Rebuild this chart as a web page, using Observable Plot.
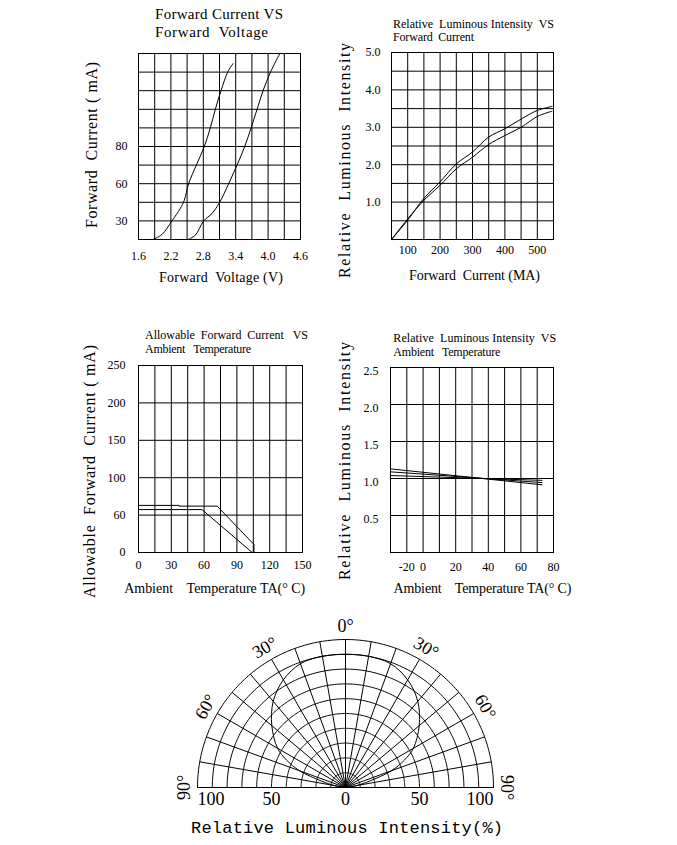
<!DOCTYPE html>
<html><head><meta charset="utf-8">
<script src="https://cdn.jsdelivr.net/npm/d3@7"></script>
<script src="https://cdn.jsdelivr.net/npm/@observablehq/plot@0.6"></script>
<style>
html,body{margin:0;padding:0;background:#fff;}
#root{position:relative;width:677px;height:845px;overflow:hidden;background:#fff;}
#root > svg{position:absolute;}
</style></head><body><div id="root"></div>
<script>
// ===== DATA =====
// Panel 1: Forward Current vs Forward Voltage (current read in grid rows)
const fvVoltageA = [1.867,2.034,2.219,2.374,2.448,2.528,2.671,2.819,2.93,3.023,3.128,3.252,3.351];
const fvRowsA    = [0,0.27,1,1.67,2.11,3,4,5,6,7,8,9,9.46];
const fvVoltageB = [2.516,2.652,2.807,2.961,3.103,3.27,3.425,3.567,3.685,3.796,3.907,4.044,4.217];
const fvRowsB    = [0,0.23,1,1.4,2,3,4,5,6,7,8,9,10];
const fvXTicks = [1.6,2.2,2.8,3.4,4.0,4.6];
const fvYTickRows = [1,3,5];
const fvYTickLabels = ["30","60","80"];

// Panel 2: Relative luminous intensity vs forward current
const liCurrent = [50,100,150,200,250,300,350,400,450,500,545];
const liA = [0,0.52,1.1,1.54,2.02,2.34,2.74,2.96,3.22,3.45,3.56];
const liB = [0,0.55,1.05,1.45,1.89,2.2,2.54,2.78,3.0,3.29,3.43];
const liXTicks = [100,200,300,400,500];
const liYTicks = [1,2,3,4,5];

// Panel 3: Allowable forward current vs ambient temperature (y in axis position units)
const afTempA = [0,37,37,72,105.6,105.6];
const afPosA  = [63,63,62,62,10.7,0];
const afTempB = [0,58,104];
const afPosB  = [57.4,57.4,0];
const afXTicks = [0,30,60,90,120,150];
const afYTickPos = [0,50,100,150,200,250];
const afYTickLabels = ["0","60","100","150","200","250"];

// Panel 4: Relative luminous intensity vs ambient temperature (x in grid columns)
const riCol = [0,9.3];
const riA = [1.13,0.915];
const riB = [1.09,0.945];
const riC = [1.04,0.975];
const riXTickCols = [1,2,4,6,8,10];
const riXTickLabels = ["-20","0","20","40","60","80"];
const riYTicks = [0.5,1.0,1.5,2.0,2.5];

// Polar radiation pattern
const patternAngle = [-90,-85,-80,-75,-70,-65,-60,-50,-40,-30,-20,-10,0,10,20,30,40,50,60,65,70,75,80,85,90];
const patternValue = [0,3,8,17,33,44,53,65,76,84,89,90,90,90,89,84,76,65,53,44,33,17,8,3,0];
const polarRings = [10,20,30,40,50,60,70,80,90,100];
const polarSpokes = [-90,-80,-70,-60,-50,-40,-30,-20,-10,0,10,20,30,40,50,60,70,80,90];
const polarAngleLabels = [-90,-60,-30,0,30,60,90];
const polarAngleTexts = ["90°","60°","30°","0°","30°","60°","90°"];
const polarTickPos = [-100,-50,0,50,100];
const polarTickTexts = ["100","50","0","50","100"];

// ===== RENDER =====
const root = document.getElementById("root");
function place(svg, left, top){ svg.style.left = left+"px"; svg.style.top = top+"px"; root.appendChild(svg); }
const baseStyle = {fontFamily:"'Liberation Serif', serif", fontSize:"12px", color:"#000", background:"transparent", overflow:"visible"};
const K = "#000";
const LW = 1;
const zip = (xs, ys) => xs.map((x,i)=>({x, y:ys[i]}));

// Panel 1
const fvMap = new Map(fvYTickRows.map((r,i)=>[r, fvYTickLabels[i]]));
place(Plot.plot({
  width:240, height:250, marginLeft:58, marginRight:20, marginTop:13, marginBottom:51,
  style: baseStyle,
  x:{domain:[1.6,4.6]}, y:{domain:[0,10]},
  marks:[
    Plot.ruleX(d3.range(11).map(i=>1.6+0.3*i), {stroke:K}),
    Plot.ruleY(d3.range(11), {stroke:K}),
    Plot.frame({stroke:K}),
    Plot.line(zip(fvVoltageA, fvRowsA), {x:"x", y:"y", stroke:K, strokeWidth:LW, curve:"catmull-rom"}),
    Plot.line(zip(fvVoltageB, fvRowsB), {x:"x", y:"y", stroke:K, strokeWidth:LW, curve:"catmull-rom"}),
    Plot.axisX(fvXTicks, {tickSize:0, tickPadding:12, tickFormat:d=>d.toFixed(1), label:null, fontSize:12}),
    Plot.axisY(fvYTickRows, {tickSize:0, tickPadding:11, tickFormat:d=>fvMap.get(d), label:null, fontSize:12})
  ]
}), 80, 40);

// Panel 2
place(Plot.plot({
  width:250, height:250, marginLeft:61, marginRight:27, marginTop:12, marginBottom:51,
  style: baseStyle,
  x:{domain:[50,550]}, y:{domain:[0,5]},
  marks:[
    Plot.ruleX(d3.range(50,551,50), {stroke:K}),
    Plot.ruleY(d3.range(0,5.01,0.5), {stroke:K}),
    Plot.frame({stroke:K}),
    Plot.line(zip(liCurrent, liA), {x:"x", y:"y", stroke:K, strokeWidth:LW, curve:"catmull-rom"}),
    Plot.line(zip(liCurrent, liB), {x:"x", y:"y", stroke:K, strokeWidth:LW, curve:"catmull-rom"}),
    Plot.axisX(liXTicks, {tickSize:0, tickPadding:6, label:null, fontSize:12}),
    Plot.axisY(liYTicks, {tickSize:0, tickPadding:11, tickFormat:d=>d.toFixed(1), label:null, fontSize:12})
  ]
}), 330, 40);

// Panel 3
const afMap = new Map(afYTickPos.map((p,i)=>[p, afYTickLabels[i]]));
place(Plot.plot({
  width:250, height:280, marginLeft:63, marginRight:23, marginTop:45, marginBottom:48,
  style: baseStyle,
  x:{domain:[0,150]}, y:{domain:[0,250]},
  marks:[
    Plot.ruleX(d3.range(0,151,15), {stroke:K}),
    Plot.ruleY(d3.range(0,251,50), {stroke:K}),
    Plot.frame({stroke:K}),
    Plot.line(zip(afTempA, afPosA), {x:"x", y:"y", stroke:K, strokeWidth:LW}),
    Plot.line(zip(afTempB, afPosB), {x:"x", y:"y", stroke:K, strokeWidth:LW}),
    Plot.axisX(afXTicks, {tickSize:0, tickPadding:8, label:null, fontSize:12}),
    Plot.axisY(afYTickPos, {tickSize:0, tickPadding:13, tickFormat:d=>afMap.get(d), label:null, fontSize:12})
  ]
}), 75, 320);

// Panel 4
const riMap = new Map(riXTickCols.map((c,i)=>[c, riXTickLabels[i]]));
place(Plot.plot({
  width:250, height:280, marginLeft:60, marginRight:27, marginTop:47, marginBottom:48,
  style: baseStyle,
  x:{domain:[0,10]}, y:{domain:[0,2.5]},
  marks:[
    Plot.ruleX(d3.range(11), {stroke:K}),
    Plot.ruleY(d3.range(0,2.51,0.5), {stroke:K}),
    Plot.frame({stroke:K}),
    Plot.line(zip(riCol, riA), {x:"x", y:"y", stroke:K, strokeWidth:LW}),
    Plot.line(zip(riCol, riB), {x:"x", y:"y", stroke:K, strokeWidth:LW}),
    Plot.line(zip(riCol, riC), {x:"x", y:"y", stroke:K, strokeWidth:LW}),
    Plot.axisX(riXTickCols, {tickSize:0, tickPadding:10, tickFormat:d=>riMap.get(d), label:null, fontSize:12}),
    Plot.axisY(riYTicks, {tickSize:0, tickPadding:12, dy:4, tickFormat:d=>d.toFixed(1), label:null, fontSize:12})
  ]
}), 330, 320);

// Polar
const rad = a => a*Math.PI/180;
const ringPts = polarRings.flatMap(r => d3.range(-90, 90.01, 1).map(a => ({r, a})));
const spokeData = polarSpokes.map(a => ({a}));
const pattern = patternAngle.map((a,i)=>({a, r:patternValue[i]}));
const angleLab = polarAngleLabels.map((a,i)=>({a, t:polarAngleTexts[i]}));
const tickLab = polarTickPos.map((p,i)=>({p, t:polarTickTexts[i]}));
place(Plot.plot({
  width:370, height:235, marginLeft:37, marginRight:37, marginTop:29, marginBottom:58,
  style: {...baseStyle, fontSize:"18px"},
  x:{domain:[-100,100], axis:null}, y:{domain:[0,100], axis:null},
  marks:[
    Plot.line(ringPts, {x:d=>d.r*Math.sin(rad(d.a)), y:d=>d.r*Math.cos(rad(d.a)), z:"r", stroke:K, strokeWidth:LW}),
    Plot.link(spokeData, {x1:0, y1:0, x2:d=>100*Math.sin(rad(d.a)), y2:d=>100*Math.cos(rad(d.a)), stroke:K, strokeWidth:LW}),
    Plot.line(pattern, {x:d=>d.r*Math.sin(rad(d.a)), y:d=>d.r*Math.cos(rad(d.a)), stroke:K, strokeWidth:LW, curve:"catmull-rom"}),
    Plot.text(angleLab, {x:d=>109*Math.sin(rad(d.a)), y:d=>109*Math.cos(rad(d.a)), text:"t", rotate:d=>d.a, fontSize:18, fill:K}),
    Plot.text(tickLab.filter(d=>d.p===-100), {x:"p", y:0, text:"t", dy:12, textAnchor:"start", fontSize:18, fill:K}),
    Plot.text(tickLab.filter(d=>d.p===100), {x:"p", y:0, text:"t", dy:12, textAnchor:"end", fontSize:18, fill:K}),
    Plot.text(tickLab.filter(d=>Math.abs(d.p)<100), {x:"p", y:0, text:"t", dy:12, fontSize:18, fill:K})
  ]
}), 160, 610);

// ===== Overlay text (titles, axis labels) =====
const serif = "'Liberation Serif', serif";
const mono = "'Liberation Mono', monospace";
const labels = [
  {t:"Forward Current VS", x:155, y:13.5, a:"start", fs:15, len:128},
  {t:"Forward  Voltage", x:155, y:31.5, a:"start", fs:15, len:113},
  {t:"Forward  Current ( mA)", x:91, y:145, a:"middle", fs:16, len:166, rot:-90},
  {t:"Forward  Voltage (V)", x:221, y:277, a:"middle", fs:14, len:124},

  {t:"Relative  Luminous Intensity  VS", x:393, y:24, a:"start", fs:12, len:161},
  {t:"Forward  Current", x:393, y:36.7, a:"start", fs:12, len:81},
  {t:"Relative  Luminous  Intensity", x:344, y:160.5, a:"middle", fs:16, len:235, rot:-90},
  {t:"Forward  Current (MA)", x:474.5, y:275, a:"middle", fs:14, len:131},

  {t:"Allowable  Forward  Current   VS", x:145, y:335, a:"start", fs:12, len:163},
  {t:"Ambient   Temperature", x:145, y:349.3, a:"start", fs:12, len:106},
  {t:"Allowable  Forward  Current ( mA)", x:89, y:471.5, a:"middle", fs:16, len:253, rot:-90},
  {t:"Ambient    Temperature TA(° C)", x:214.7, y:588, a:"middle", fs:14, len:181},

  {t:"Relative  Luminous Intensity  VS", x:393.3, y:338.3, a:"start", fs:12, len:163},
  {t:"Ambient   Temperature", x:393.3, y:351.7, a:"start", fs:12, len:107},
  {t:"Relative  Luminous  Intensity", x:344, y:461, a:"middle", fs:16, len:238, rot:-90},
  {t:"Ambient    Temperature TA(° C)", x:482.5, y:588, a:"middle", fs:14, len:178},

  {t:"Relative Luminous Intensity(%)", x:347, y:828, a:"middle", fs:17, len:312, font:mono}
];
const ov = d3.create("svg").attr("width",677).attr("height",845).style("left","0px").style("top","0px");
for (const l of labels) {
  ov.append("text")
    .attr("transform", `translate(${l.x},${l.y})` + (l.rot ? ` rotate(${l.rot})` : ""))
    .attr("text-anchor", l.a)
    .attr("dominant-baseline", "central")
    .attr("textLength", l.len)
    .attr("lengthAdjust", "spacing")
    .style("white-space", "pre")
    .style("font-family", l.font || serif)
    .style("font-size", l.fs + "px")
    .attr("fill", K)
    .text(l.t);
}
root.appendChild(ov.node());
</script>
</body></html>
